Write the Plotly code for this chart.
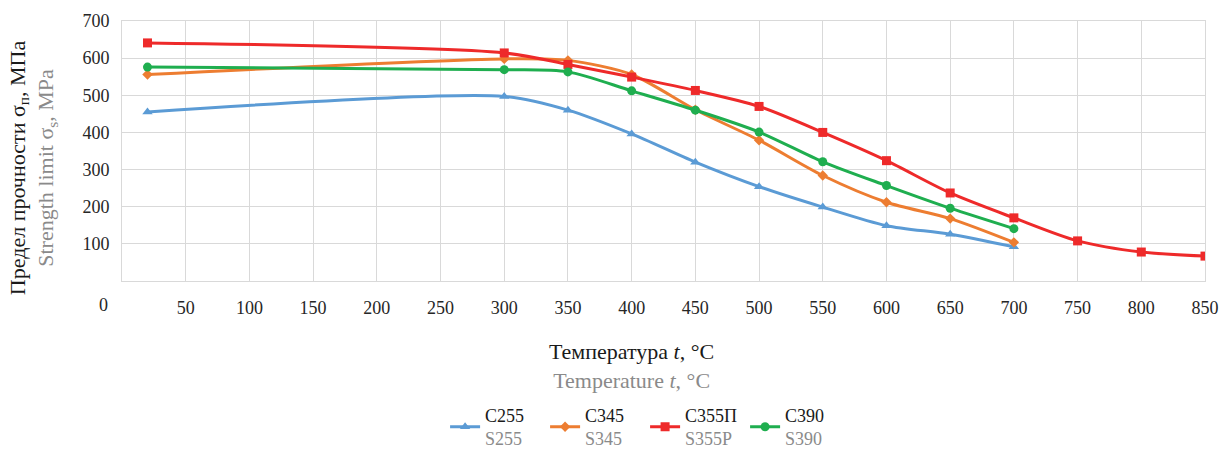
import plotly.graph_objects as go

# Temperature points, °C
temp_c255 = [20, 300, 350, 400, 450, 500, 550, 600, 650, 700]
temp_c345 = [20, 300, 350, 400, 450, 500, 550, 600, 650, 700]
temp_c355p = [20, 300, 350, 400, 450, 500, 550, 600, 650, 700, 750, 800, 850]
temp_c390 = [20, 300, 350, 400, 450, 500, 550, 600, 650, 700]

# Strength limit, MPa
c255 = [455, 497, 460, 396, 320, 254, 199, 149, 126, 92]
c345 = [556, 598, 594, 556, 461, 379, 284, 212, 168, 104]
c355p = [641, 614, 583, 549, 513, 470, 400, 324, 237, 170, 108, 78, 67]
c390 = [576, 569, 563, 512, 460, 401, 321, 257, 196, 141]

x_ticks = [50, 100, 150, 200, 250, 300, 350, 400, 450, 500, 550, 600, 650, 700, 750, 800, 850]
y_ticks = [100, 200, 300, 400, 500, 600, 700]

FONT = "Liberation Serif, Times New Roman, serif"
GRAY = "#8a8a8a"
GRID = "#d9d9d9"
TICK = "#262626"


def legend_name(ru, en):
    return f"{ru}<br><span style='color:{GRAY}'>{en}</span>"


series = [
    (temp_c255, c255, legend_name("С255", "S255"), "#5b9bd5", "triangle-up", 9),
    (temp_c345, c345, legend_name("С345", "S345"), "#ed7d31", "diamond", 8),
    (temp_c355p, c355p, legend_name("С355П", "S355P"), "#ee2a2a", "square", 9),
    (temp_c390, c390, legend_name("С390", "S390"), "#1fae4f", "circle", 9),
]

fig = go.Figure()
for xs, ys, name, color, symbol, size in series:
    fig.add_trace(go.Scatter(
        x=xs, y=ys, name=name, mode="lines+markers",
        line=dict(color=color, width=3, shape="spline", smoothing=0.8),
        marker=dict(symbol=symbol, size=size, color=color),
    ))

fig.update_layout(
    width=1226, height=450,
    margin=dict(l=122, r=21, t=21, b=169, autoexpand=False),
    paper_bgcolor="white", plot_bgcolor="white",
    font=dict(family=FONT, size=18, color=TICK),
    showlegend=True,
    legend=dict(
        orientation="h", x=0.483, xanchor="center", y=(281 - 427) / 260.3, yanchor="middle",
        font=dict(family=FONT, size=18, color="#1a1a1a"),
        itemwidth=30, tracegroupgap=0,
        entrywidth=55, entrywidthmode="pixels",
    ),
)

fig.update_xaxes(
    range=[0, 850], tickvals=x_ticks, showgrid=True, gridcolor=GRID, gridwidth=1,
    showline=True, linecolor=GRID, linewidth=1, mirror=True, zeroline=False,
    ticks="", ticklabelstandoff=10, tickfont=dict(family=FONT, size=18, color=TICK),
)
fig.update_yaxes(
    range=[0, 700], tickvals=y_ticks, showgrid=True, gridcolor=GRID, gridwidth=1,
    showline=True, linecolor=GRID, linewidth=1, mirror=True, zeroline=False,
    ticks="", ticklabelstandoff=8, tickfont=dict(family=FONT, size=18, color=TICK),
)

# Origin label sits left of the plot area, on the tick-label row
fig.add_annotation(
    text="0", xref="paper", yref="paper", x=(103 - 122) / 1083, y=(281 - 305) / 260.3,
    showarrow=False, xanchor="center", yanchor="middle",
    font=dict(family=FONT, size=18, color=TICK),
)

# Y-axis title (Russian / English)
fig.add_annotation(
    text=f"Предел прочности σ<sub>п</sub>, МПа<br><span style='color:{GRAY}'>Strength limit σ<sub>s</sub>, MPa</span>",
    xref="paper", yref="paper", x=(33 - 122) / 1083, y=(281 - 168) / 260.3,
    showarrow=False, textangle=-90, xanchor="center", yanchor="middle",
    font=dict(family=FONT, size=22, color="#1a1a1a"),
)

# X-axis title (Russian / English)
fig.add_annotation(
    text=f"Температура <i>t</i>, °C<br><span style='color:{GRAY}'>Temperature <i>t</i>, °C</span>",
    xref="paper", yref="paper", x=(631 - 122) / 1083, y=(281 - 366) / 260.3,
    showarrow=False, xanchor="center", yanchor="middle",
    font=dict(family=FONT, size=22, color="#1a1a1a"),
)

fig.write_html("out.html")
